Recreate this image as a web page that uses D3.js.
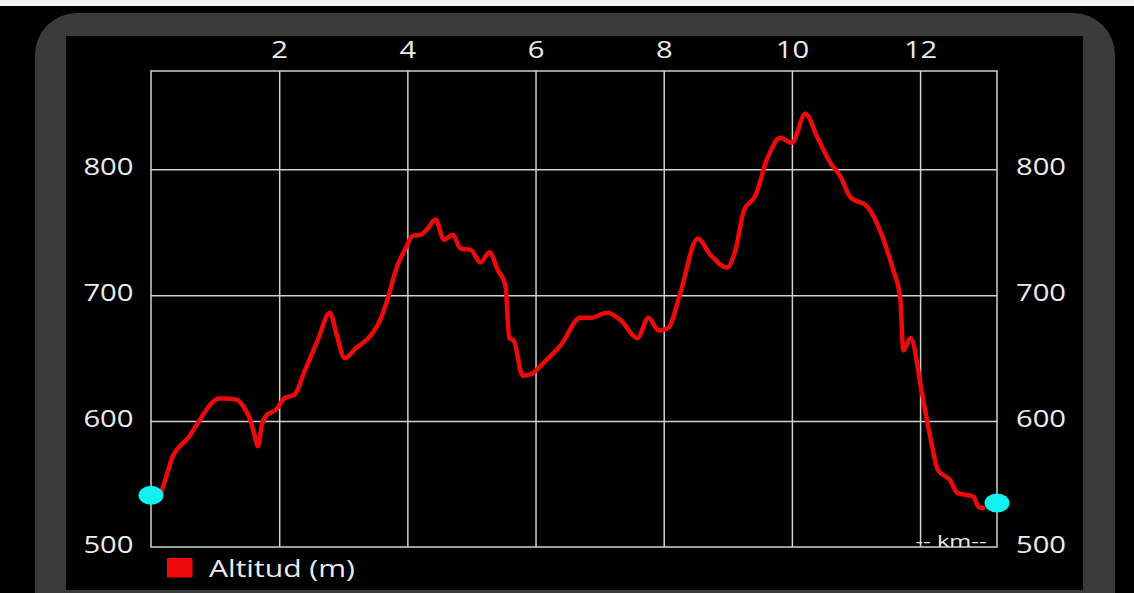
<!DOCTYPE html>
<html>
<head>
<meta charset="utf-8">
<script src="https://cdn.jsdelivr.net/npm/d3@7"></script>
<style>
  html, body { margin: 0; padding: 0; background: #000; }
  svg { display: block; }
  text { font-family: "Open Sans", Roboto, sans-serif; fill: #ececec; }
</style>
</head>
<body>
<svg id="chart" width="1134" height="593"></svg>
<script>
// distance (km) and altitude (m)
const km = [0.17, 0.25, 0.34, 0.45, 0.57, 0.70, 0.84, 0.96, 1.06, 1.14, 1.33, 1.45, 1.54, 1.61, 1.67, 1.73, 1.81, 1.95, 2.08, 2.24,
  2.40, 2.60, 2.79, 2.90, 3.02, 3.20, 3.43, 3.59, 3.71, 3.82, 3.98, 4.08, 4.21, 4.32, 4.44, 4.57, 4.71, 4.83, 4.99, 5.14,
  5.28, 5.41, 5.53, 5.59, 5.66, 5.80, 5.92, 6.16, 6.39, 6.70, 6.86, 7.12, 7.33, 7.59, 7.76, 7.92, 8.07, 8.26, 8.53, 8.73,
  8.99, 9.12, 9.25, 9.43, 9.62, 9.82, 10.0, 10.21, 10.40, 10.60, 10.76, 10.91, 11.18, 11.43, 11.58, 11.69, 11.74, 11.85,
  12.03, 12.16, 12.28, 12.47, 12.58, 12.83, 12.91, 12.98];
const alt = [545, 558, 572, 580, 586, 596, 607, 615, 618, 618, 617, 611, 602, 590, 580, 597, 605, 609, 618, 621,
  640, 664, 686, 668, 650, 658, 668, 682, 700, 720, 738, 747, 748, 753, 760, 744, 748, 737, 736, 726,
  734, 720, 708, 666, 664, 636, 637, 648, 660, 682, 682, 686, 680, 666, 682, 672, 674, 702, 745, 732,
  722, 736, 767, 779, 809, 825, 821, 844, 825, 805, 794, 778, 770, 744, 720, 698, 656, 666,
  622, 587, 561, 553, 543, 540, 532, 531];

// start / end markers
const markerKm = [0, 13.2];
const markerAlt = [541, 535];

const xTicks = [2, 4, 6, 8, 10, 12];
const yTicks = [500, 600, 700, 800];

const svg = d3.select("#chart");
const stretch = "scale(1.27,1)"; // the screenshot's text is wide

// device frame
svg.append("rect").attr("x", 0).attr("y", 0).attr("width", 1134).attr("height", 6).attr("fill", "#f4f4f4");
svg.append("rect").attr("x", 35).attr("y", 13).attr("width", 1080).attr("height", 640)
  .attr("rx", 42).attr("fill", "#3b3b3b");
svg.append("rect").attr("x", 66).attr("y", 36).attr("width", 1017).attr("height", 554).attr("fill", "#000");

const x = d3.scaleLinear().domain([0, 13.2]).range([151, 997]);
const y = d3.scaleLinear().domain([500, 878]).range([547, 71]);

const plotTop = y.range()[1], plotBottom = y.range()[0];
const plotLeft = x.range()[0], plotRight = x.range()[1];

// vertical grid
const xGrid = d3.axisBottom(x).tickValues(xTicks).tickSize(plotBottom - plotTop).tickFormat("");
svg.append("g").attr("transform", `translate(0,${plotTop})`).call(xGrid)
  .call(g => g.select(".domain").remove())
  .call(g => g.selectAll(".tick line").attr("stroke", "#d0d0d0").attr("stroke-width", 1.5));

// km labels on top
svg.append("g").attr("transform", `translate(0,${plotTop})`)
  .call(d3.axisTop(x).tickValues(xTicks).tickSize(0).tickFormat(d3.format("d")))
  .call(g => g.select(".domain").remove())
  .call(g => g.selectAll(".tick text")
    .attr("font-size", 23).attr("font-family", null).attr("fill", "#ececec")
    .attr("y", -13.5).attr("dy", 0).attr("transform", stretch));

// horizontal grid
const yGrid = d3.axisRight(y).tickValues([600, 700, 800]).tickSize(plotRight - plotLeft).tickFormat("");
svg.append("g").attr("transform", `translate(${plotLeft},0)`).call(yGrid)
  .call(g => g.select(".domain").remove())
  .call(g => g.selectAll(".tick line").attr("stroke", "#d0d0d0").attr("stroke-width", 1.5));

// plot box
svg.append("rect").attr("x", plotLeft).attr("y", plotTop)
  .attr("width", plotRight - plotLeft).attr("height", plotBottom - plotTop)
  .attr("fill", "none").attr("stroke", "#d0d0d0").attr("stroke-width", 1.5);

// y labels on both sides
const styleY = g => g.select(".domain").remove();
svg.append("g").attr("transform", `translate(${plotLeft - 17.5},0)`)
  .call(d3.axisLeft(y).tickValues(yTicks).tickSize(0))
  .call(styleY)
  .call(g => g.selectAll(".tick text")
    .attr("font-size", 23).attr("font-family", null).attr("fill", "#ececec")
    .attr("x", 0).attr("dy", "0.25em").attr("transform", stretch));

svg.append("g").attr("transform", `translate(${plotRight + 19},0)`)
  .call(d3.axisRight(y).tickValues(yTicks).tickSize(0))
  .call(styleY)
  .call(g => g.selectAll(".tick text")
    .attr("font-size", 23).attr("font-family", null).attr("fill", "#ececec")
    .attr("x", 0).attr("dy", "0.25em").attr("transform", stretch));

// unit label
svg.append("text").attr("x", plotRight - 10.5).attr("y", plotBottom - 0.5)
  .attr("text-anchor", "end")
  .attr("font-size", 16.5)
  .attr("textLength", 71).attr("lengthAdjust", "spacingAndGlyphs")
  .text("-- km--");

// profile line
const line = d3.line()
  .x((d, i) => x(km[i]))
  .y(d => y(d))
  .curve(d3.curveMonotoneX);

svg.append("path")
  .datum(alt)
  .attr("fill", "none")
  .attr("stroke", "#ee0a0a")
  .attr("stroke-width", 4.5)
  .attr("stroke-linejoin", "round")
  .attr("stroke-linecap", "round")
  .attr("d", line);

// markers
svg.selectAll(".marker").data(markerKm).join("ellipse")
  .attr("class", "marker")
  .attr("cx", d => x(d))
  .attr("cy", (d, i) => y(markerAlt[i]))
  .attr("rx", 12.5).attr("ry", 9.5)
  .attr("fill", "#13f0f0");

// legend
const legend = svg.append("g").attr("transform", "translate(167,558)");
legend.append("rect").attr("width", 25.5).attr("height", 19.5).attr("fill", "#ee0a0a");
legend.append("text").attr("x", 42).attr("y", 19)
  .attr("font-size", 23)
  .attr("textLength", 146).attr("lengthAdjust", "spacingAndGlyphs")
  .text("Altitud (m)");
</script>
</body>
</html>
